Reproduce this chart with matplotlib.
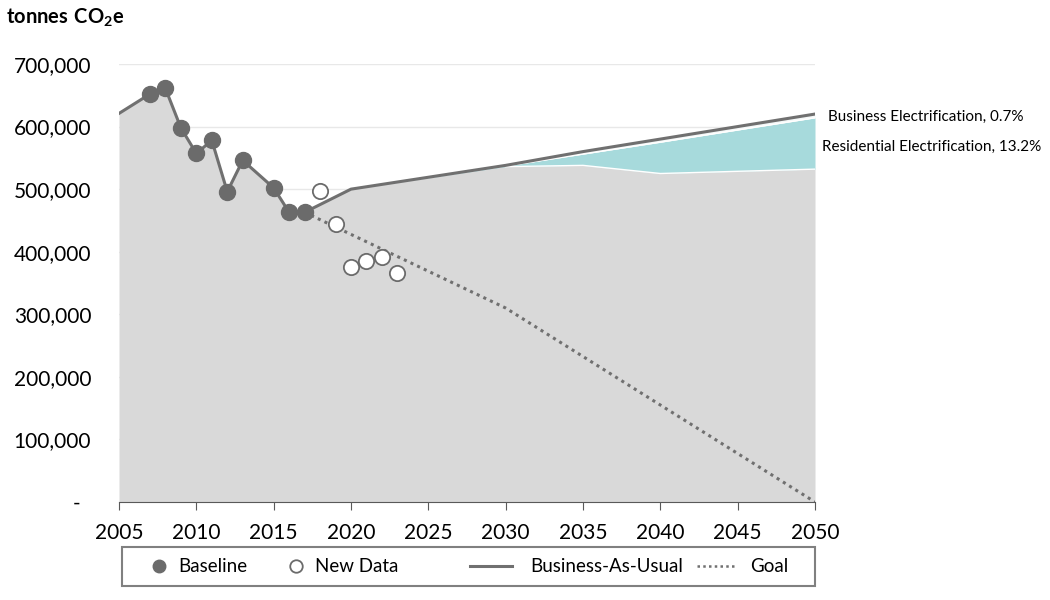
import matplotlib
matplotlib.use("Agg")
import matplotlib.pyplot as plt
from matplotlib.lines import Line2D
from matplotlib.patches import Rectangle

plt.rcParams['font.family'] = ['Lato', 'DejaVu Sans']
plt.rcParams['mathtext.fontset'] = 'custom'
plt.rcParams['mathtext.rm'] = 'Lato'
plt.rcParams['mathtext.bf'] = 'Lato:bold'

# Baseline historical data
base_years = [2005, 2007, 2008, 2009, 2010, 2011, 2012, 2013, 2015, 2016, 2017]
base_vals = [621000, 652000, 661000, 598000, 557000, 578000, 496000, 546000, 502000, 463000, 463000]
base_marker_years = [2007, 2008, 2009, 2010, 2011, 2012, 2013, 2015, 2016, 2017]
base_marker_vals = [652000, 661000, 598000, 557000, 578000, 496000, 546000, 502000, 463000, 463000]

# New data
new_years = [2018, 2019, 2020, 2021, 2022, 2023]
new_vals = [497000, 444000, 376000, 385000, 392000, 366000]

# Business-as-usual projection
bau_years = [2017, 2020, 2030, 2035, 2040, 2050]
bau_vals = [463000, 500000, 538000, 560000, 580000, 620000]

# Wedges (remaining emissions after electrification)
wedge_years = [2017, 2020, 2030, 2035, 2040, 2050]
resid_bottom = [463000, 500000, 536000, 538000, 525000, 532000]
biz_bottom = [463000, 500000, 537000, 556000, 575000, 614000]

# Goal line
goal_years = [2017, 2030, 2050]
goal_vals = [463000, 310000, 0]

label_biz = "Business Electrification, 0.7%"
label_res = "Residential Electrification, 13.2%"
legend_labels = ['Baseline', 'New Data', 'Business-As-Usual', 'Goal']

fig = plt.figure(figsize=(10.5, 6), dpi=100)
ax = fig.add_axes([119/1050, 1-502/600, (815-119)/1050, (502-64)/600])

gray_fill = '#d9d9d9'
line_col = '#707070'
teal = '#a7dadc'
goal_ls = (0, (1, 1.4))

# remaining-emissions area: history followed by the post-electrification projection
area_years = base_years + wedge_years[1:]
area_vals = base_vals + resid_bottom[1:]
ax.fill_between(area_years, 0, area_vals, color=gray_fill, lw=0, zorder=1)
ax.fill_between(wedge_years, resid_bottom, biz_bottom, color=teal, lw=0, zorder=1)
ax.fill_between(wedge_years, biz_bottom, bau_vals, color='#f4f8f8', lw=0, zorder=1)
ax.plot(wedge_years[2:], resid_bottom[2:], color='white', lw=1, zorder=1.5)
ax.plot(wedge_years[2:], biz_bottom[2:], color='white', lw=1, zorder=1.5)

ax.plot(base_years, base_vals, color=line_col, lw=2.2, zorder=3)
ax.plot(bau_years, bau_vals, color=line_col, lw=2.2, zorder=3)
ax.plot(goal_years, goal_vals, color=line_col, lw=2.2, ls=goal_ls, zorder=3)
ax.plot(base_marker_years, base_marker_vals, ls='none', marker='o', ms=11.5,
        mfc='#6b6b6b', mec='#6b6b6b', zorder=4)
ax.plot(new_years, new_vals, ls='none', marker='o', ms=11,
        mfc='white', mec='#6b6b6b', mew=1.3, zorder=4)

ax.set_xlim(2005, 2050)
ax.set_ylim(0, 700000)
ax.set_xticks(range(2005, 2051, 5))
yt = list(range(0, 700001, 100000))
ax.set_yticks(yt)
ax.set_yticklabels(['-  '] + [f"{v:,}" for v in yt[1:]])
ax.tick_params(axis='y', length=0, labelsize=15, pad=20)
ax.tick_params(axis='x', length=6, color='#595959', labelsize=15, direction='out', pad=9)
ax.grid(axis='y', color='#e8e8e8', lw=1, zorder=0)
ax.set_axisbelow(True)
for s in ['top', 'right', 'left']:
    ax.spines[s].set_visible(False)
ax.spines['bottom'].set_color('#595959')
ax.spines['bottom'].set_zorder(5)

fig.text(6/1050, 1-18/600, r"$\mathbf{tonnes\ CO_2e}$", fontsize=14.5, va='center', ha='left')

fig.text(828/1050, 1-117/600, label_biz, fontsize=11, va='center', ha='left')
fig.text(822/1050, 1-147/600, label_res, fontsize=11, va='center', ha='left')

# legend box (drawn in figure pixels)
W, H = 1050, 600
def fx(px):
    return px / W
def fy(py):
    return 1 - py / H

fig.add_artist(Rectangle((fx(122), fy(586)), (815-122)/W, 39/H, transform=fig.transFigure,
                         fill=False, edgecolor='#808080', lw=1.5))
ly = fy(566)
fig.add_artist(Line2D([fx(159)], [ly], transform=fig.transFigure, ls='none', marker='o',
                      ms=9, mfc='#6b6b6b', mec='#6b6b6b'))
fig.add_artist(Line2D([fx(296)], [ly], transform=fig.transFigure, ls='none', marker='o',
                      ms=9, mfc='white', mec='#6b6b6b', mew=1.3))
fig.add_artist(Line2D([fx(470), fx(512)], [ly, ly], transform=fig.transFigure,
                      color=line_col, lw=2.2))
fig.add_artist(Line2D([fx(697), fx(737)], [ly, ly], transform=fig.transFigure,
                      color=line_col, lw=1.8, ls=(0, (1, 1.3))))
for xpx, lab in zip([178, 315, 530, 750], legend_labels):
    fig.text(fx(xpx), ly, lab, fontsize=13.5, va='center', ha='left')

fig.savefig('out.png', dpi=100)
